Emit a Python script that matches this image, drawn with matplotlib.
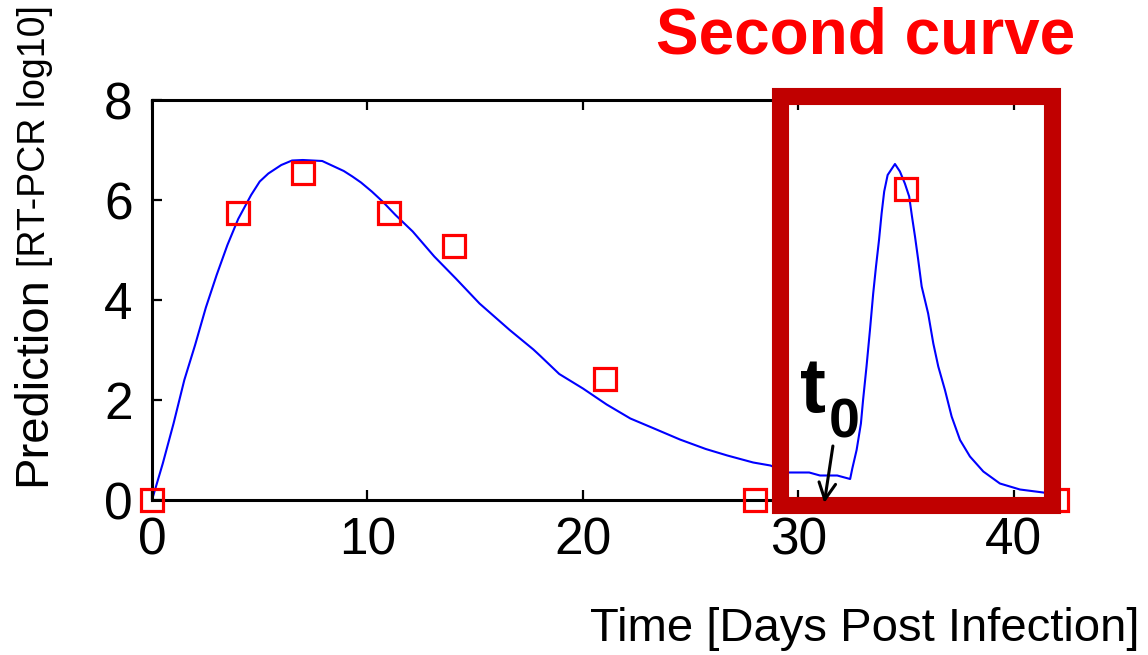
import matplotlib
matplotlib.use("Agg")
import matplotlib.pyplot as plt
from matplotlib.patches import Rectangle

plt.rcParams['font.family'] = ['Liberation Sans', 'DejaVu Sans']

# Dados medidos (RT-PCR log10) por dia apos a infeccao
dias_medidos = [0, 4, 7, 11, 14, 21, 28, 35, 42]
pcr_medido = [0.0, 5.75, 6.55, 5.75, 5.08, 2.42, 0.0, 6.22, 0.0]

# Curva prevista pelo modelo
dias_modelo = [0, 0.5, 1.0, 1.5, 2.0, 2.5, 3.0, 3.5, 4.0, 4.6, 5.0, 5.4,
               6.0, 6.5, 7.0, 7.9, 8.3, 8.9, 9.3, 9.7, 10.2, 10.7, 11.3,
               12.1, 13.1, 14.1, 15.2, 16.6, 17.7, 18.0, 18.9, 20.0, 21.1,
               22.2, 23.3, 24.5, 25.7, 26.7, 27.9, 28.7, 29.5, 30.5, 31.0,
               31.8, 32.4, 32.5, 32.7, 32.9, 33.0, 33.16, 33.32, 33.47, 33.6,
               33.74, 33.86, 33.98, 34.14, 34.48, 34.71, 34.94, 35.14, 35.27,
               35.41, 35.56, 35.72, 36.02, 36.26, 36.49, 36.8, 37.11, 37.5,
               37.96, 38.58, 39.35, 40.28, 41.36, 42.0]
pcr_modelo = [0.0, 0.73, 1.53, 2.4, 3.1, 3.85, 4.5, 5.1, 5.62, 6.1, 6.37,
              6.53, 6.7, 6.79, 6.8, 6.78, 6.7, 6.58, 6.47, 6.35, 6.17, 5.97,
              5.7, 5.37, 4.87, 4.43, 3.93, 3.4, 3.01, 2.89, 2.52, 2.23, 1.91,
              1.63, 1.43, 1.21, 1.02, 0.89, 0.75, 0.69, 0.55, 0.55, 0.49,
              0.49, 0.42, 0.63, 1.0, 1.53, 2.0, 2.67, 3.4, 4.13, 4.67, 5.2,
              5.73, 6.17, 6.5, 6.72, 6.57, 6.33, 6.07, 5.67, 5.27, 4.8, 4.27,
              3.73, 3.13, 2.67, 2.2, 1.67, 1.2, 0.87, 0.57, 0.33, 0.21, 0.15,
              0.1]

x_ticks = [0, 10, 20, 30, 40]
y_ticks = [0, 2, 4, 6, 8]

# janela da segunda curva e instante t0
janela_x = (29.16, 41.79)
janela_y = (-0.09, 8.09)
t0 = 31.2

fig = plt.figure(figsize=(11.48, 6.55), dpi=100)
ax = fig.add_axes([152 / 1148, 155 / 655, 905 / 1148, 400 / 655])

ax.plot(dias_modelo, pcr_modelo, color='#0000FF', linewidth=1.5, zorder=2)
ax.plot(dias_medidos, pcr_medido, linestyle='none', marker='s',
        markersize=16.5, markerfacecolor='none', markeredgecolor='#FF0000',
        markeredgewidth=2.3, clip_on=False, zorder=3)

ax.set_xlim(0, 42)
ax.set_ylim(0, 8)
ax.set_xticks(x_ticks)
ax.set_yticks(y_ticks)
ax.tick_params(direction='in', length=7, width=1.6, top=True, right=True,
               labelsize=37)
ax.tick_params(axis='x', pad=12)
ax.tick_params(axis='y', pad=14)
for s in ax.spines.values():
    s.set_linewidth(2.2)

# caixa destacando a segunda curva
caixa = Rectangle((janela_x[0], janela_y[0]), janela_x[1] - janela_x[0],
                  janela_y[1] - janela_y[0], fill=False, edgecolor='#C00000',
                  linewidth=12.3, joinstyle='miter', clip_on=False, zorder=4)
ax.add_patch(caixa)

ax.annotate('', xy=(t0, -0.06), xytext=(31.6, 1.08),
            arrowprops=dict(arrowstyle='->', color='black', lw=2.2,
                            mutation_scale=30, shrinkA=0, shrinkB=0),
            zorder=5, annotation_clip=False)
ax.text(30.07, 1.76, 't', fontsize=56, fontweight='bold', ha='left',
        va='baseline', zorder=5)
ax.text(31.42, 1.26, '0', fontsize=40, fontweight='bold', ha='left',
        va='baseline', zorder=5)

fig.text(1075 / 1148, (655 - 53) / 655, 'Second curve', color='#FF0000',
         fontsize=46, fontweight='bold', ha='right', va='baseline')

# rotulos dos eixos
fig.text(45 / 1148, (655 - 486) / 655, 'Prediction', fontsize=34,
         rotation=90, rotation_mode='anchor', ha='left', va='baseline')
fig.text(45 / 1148, (655 - 267) / 655, '[RT-PCR log10]', fontsize=27,
         rotation=90, rotation_mode='anchor', ha='left', va='baseline')
fig.text(1140 / 1148, (655 - 641) / 655, 'Time [Days Post Infection]',
         fontsize=34, ha='right', va='baseline')

fig.savefig('out.png', dpi=100)
